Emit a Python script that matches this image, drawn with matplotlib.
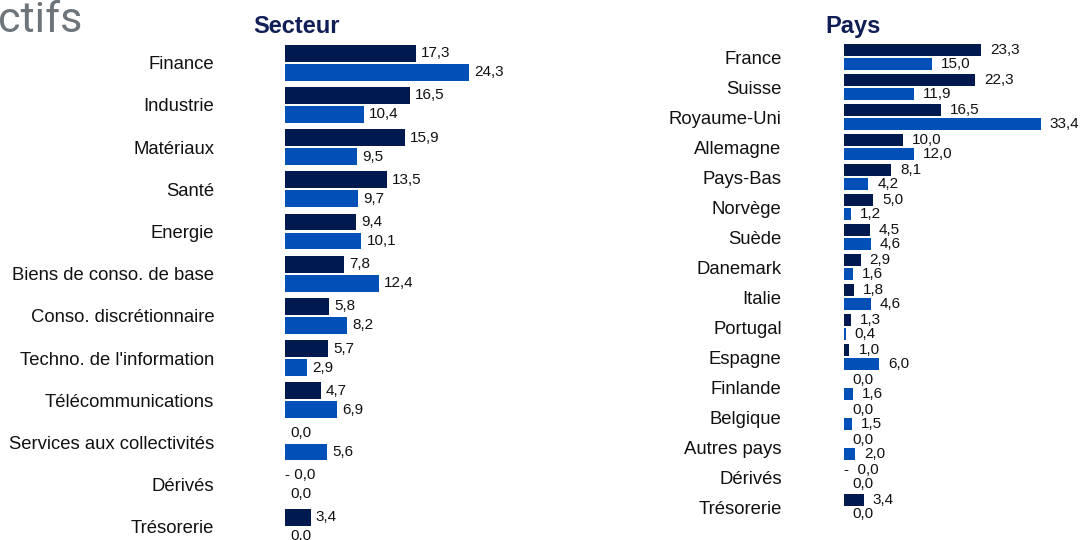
import matplotlib
matplotlib.use("Agg")
from matplotlib import pyplot as plt

# Données
secteurs = ["Finance", "Industrie", "Matériaux", "Santé", "Energie",
            "Biens de conso. de base", "Conso. discrétionnaire",
            "Techno. de l'information", "Télécommunications",
            "Services aux collectivités", "Dérivés", "Trésorerie"]
secteur_fonds = [17.3, 16.5, 15.9, 13.5, 9.4, 7.8, 5.8, 5.7, 4.7, 0.0, -0.01, 3.4]
secteur_indice = [24.3, 10.4, 9.5, 9.7, 10.1, 12.4, 8.2, 2.9, 6.9, 5.6, 0.0, 0.0]

pays = ["France", "Suisse", "Royaume-Uni", "Allemagne", "Pays-Bas", "Norvège",
        "Suède", "Danemark", "Italie", "Portugal", "Espagne", "Finlande",
        "Belgique", "Autres pays", "Dérivés", "Trésorerie"]
pays_fonds = [23.3, 22.3, 16.5, 10.0, 8.1, 5.0, 4.5, 2.9, 1.8, 1.3, 1.0,
              0.0, 0.0, 0.0, -0.01, 3.4]
pays_indice = [15.0, 11.9, 33.4, 12.0, 4.2, 1.2, 4.6, 1.6, 4.6, 0.4, 6.0,
               1.6, 1.5, 2.0, 0.0, 0.0]

DARK = "#001a4f"
LIGHT = "#0050b8"
TITLE = "#0f1f55"
W, H = 1081, 540

plt.rcParams['font.family'] = ['Liberation Sans', 'DejaVu Sans']

fig = plt.figure(figsize=(W / 100, H / 100), dpi=100)


def fmt(v, neg_sep):
    s = f"{abs(v):.1f}".replace('.', ',')
    if v < 0:
        return "-" + neg_sep + s
    return s


def draw_panel(left_px, scale, xmax, y0, step, bar_h, offs, cats, fonds, indice,
               pad_px, lbl_off, neg_sep):
    width_px = xmax * scale
    ax = fig.add_axes([left_px / W, 0, width_px / W, 1])
    n = len(cats)
    pos = list(range(n))
    ax.barh([p - offs for p in pos], fonds, height=bar_h, color=DARK)
    ax.barh([p + offs for p in pos], indice, height=bar_h, color=LIGHT)
    ax.set_xlim(0, xmax)
    ax.set_ylim((H - y0) / step, -y0 / step)
    ax.set_yticks(pos)
    ax.set_yticklabels(cats, fontsize=13.3, color="#111111")
    ax.tick_params(axis='y', length=0, pad=pad_px * 0.72)
    ax.set_xticks([])
    for s in ax.spines.values():
        s.set_visible(False)
    for p, v in zip(pos, fonds):
        x = v if v > 0 else 0
        off = lbl_off if v >= 0 else 0
        ax.annotate(fmt(v, neg_sep), (x, p - offs), xytext=(off * 0.72, 0),
                    textcoords='offset points', va='center', ha='left',
                    fontsize=11, color="#111111", annotation_clip=False)
    for p, v in zip(pos, indice):
        ax.annotate(fmt(v, neg_sep), (max(v, 0), p + offs),
                    xytext=(lbl_off * 0.72, 0), textcoords='offset points',
                    va='center', ha='left', fontsize=11, color="#111111",
                    annotation_clip=False)
    ax.patch.set_alpha(0)
    return ax


draw_panel(285, 7.57, 30, 62.8, 42.18, 0.396, 0.225, secteurs,
           secteur_fonds, secteur_indice, 70.7, 5, " ")
draw_panel(843.5, 5.9, 40, 57.0, 30.0, 0.39, 0.238, pays,
           pays_fonds, pays_indice, 61.8, 9, "  ")

fig.text(253 / W, 1 - 33 / H, "Secteur", fontsize=17, fontweight='bold',
         color=TITLE, va='baseline', ha='left')
fig.text(825 / W, 1 - 33 / H, "Pays", fontsize=17, fontweight='bold',
         color=TITLE, va='baseline', ha='left')
fig.text(-2 / W, 1 - 32 / H, "ctifs", fontsize=31, color="#6d757a",
         family='Roboto', va='baseline', ha='left')

fig.savefig("out.png", dpi=100)
